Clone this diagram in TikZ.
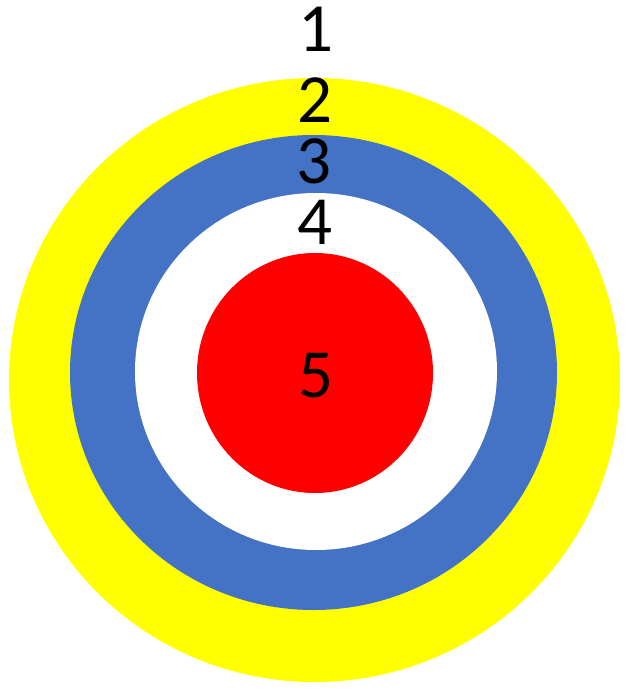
\documentclass[tikz,border=0pt]{standalone}
\usepackage{fontspec}
\setmainfont{Carlito}
\definecolor{ringyellow}{RGB}{255,255,0}
\definecolor{ringblue}{RGB}{68,114,196}
\definecolor{ringred}{RGB}{255,0,0}
\begin{document}
\begin{tikzpicture}[x=1pt,y=-1pt,
  digit/.style={inner sep=0pt,outer sep=0pt,font=\fontsize{69}{69}\selectfont,text=black}]
\useasboundingbox[fill=white] (0,0) rectangle (630,691);
\fill[ringyellow] (314.5,380) ellipse [x radius=305.5, y radius=302];
\fill[ringblue] (313.5,372.5) ellipse [x radius=243.5, y radius=237.5];
\fill[white] (316,371.5) ellipse [x radius=181, y radius=178.5];
\fill[ringred] (315,373) ellipse [x radius=118, y radius=120];
\node[digit] (n1) at (316,29.5) {1};
\node[digit] (n2) at (315,100.5) {2};
\node[digit] (n3) at (314,161.5) {3};
\node[digit] (n4) at (315,222.5) {4};
\node[digit] (n5) at (316,376) {5};
\end{tikzpicture}
\end{document}
